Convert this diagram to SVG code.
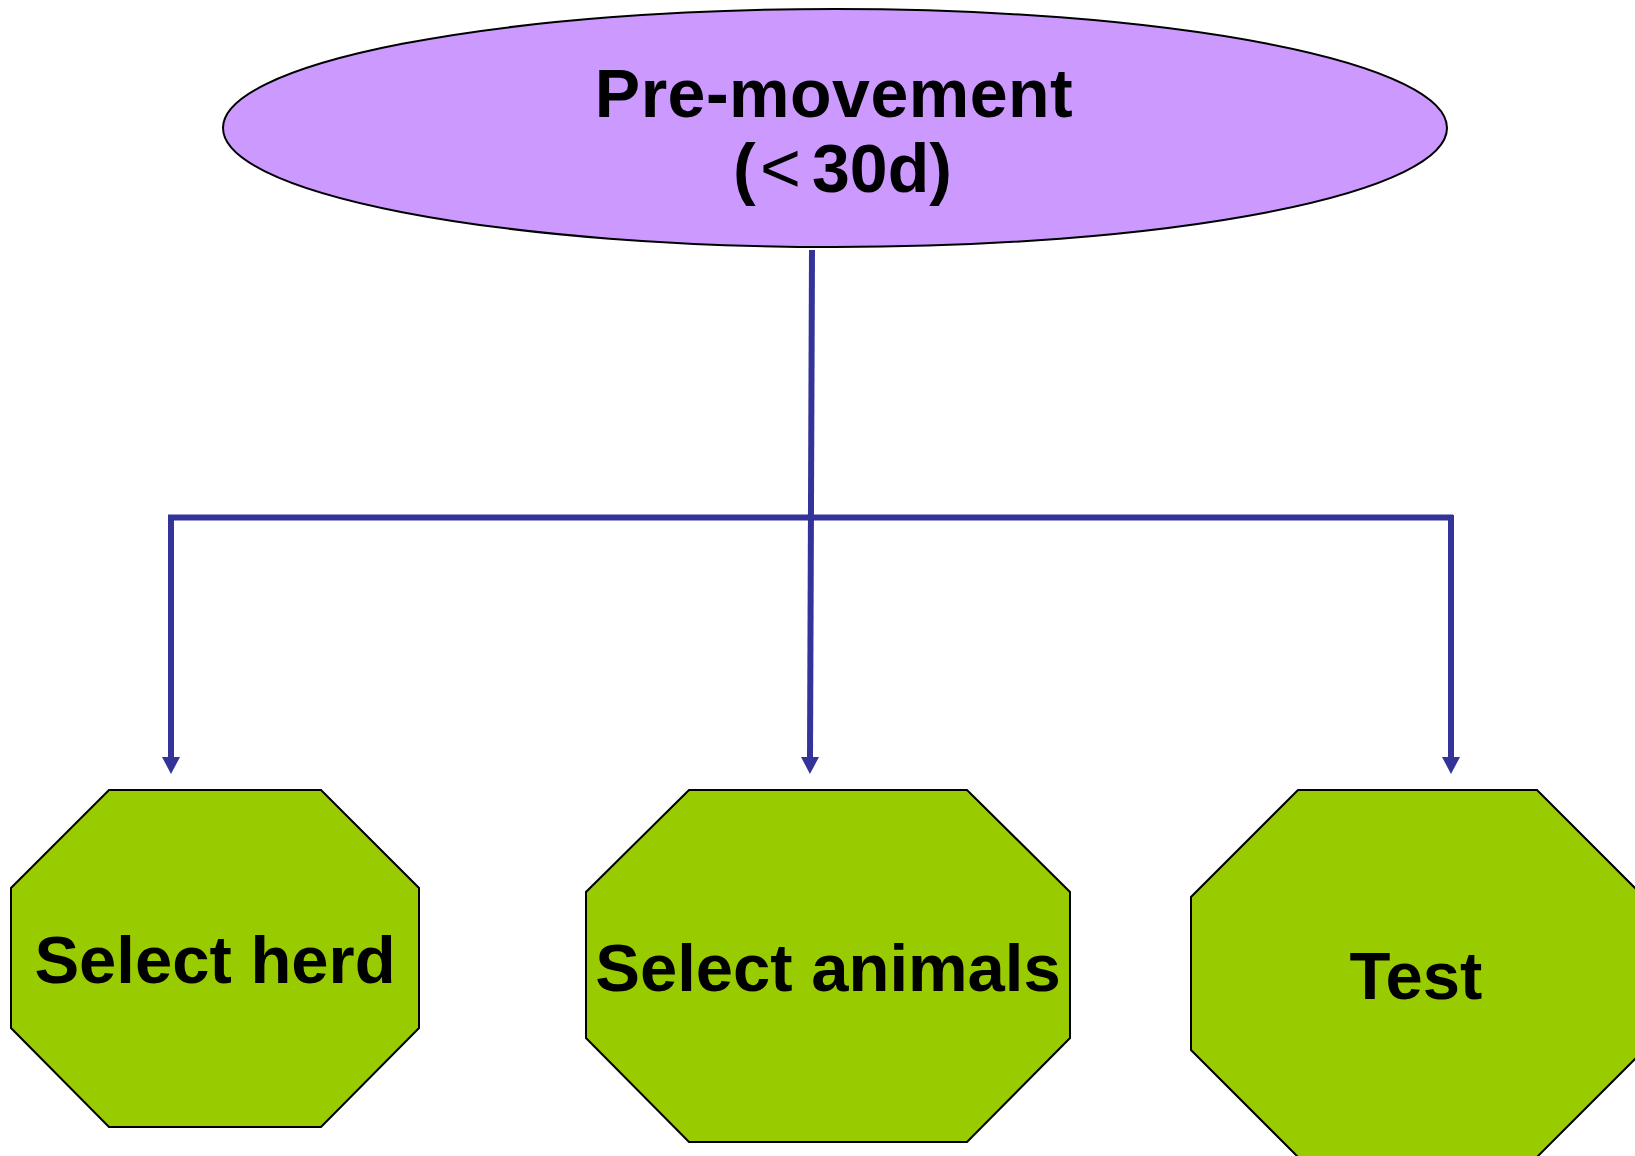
<svg xmlns="http://www.w3.org/2000/svg" width="1635" height="1156" viewBox="0 0 1635 1156">
<defs>
<style>
.lbl{font-family:"Liberation Sans",Arial,sans-serif;font-weight:bold;font-size:67px;fill:#000;text-anchor:middle}
.oct{fill:#99CC00;stroke:#000;stroke-width:2}
.conn{stroke:#333399;stroke-width:6;fill:none}
</style>
<marker id="arr" markerUnits="userSpaceOnUse" viewBox="0 -10 20 20" refX="0" refY="0" markerWidth="20" markerHeight="20" orient="auto">
<path d="M0,-9 L17,0 L0,9 z" fill="#333399"/>
</marker>
</defs>
<rect width="1635" height="1156" fill="#fff"/>
<g id="connectors">
<line class="conn" x1="812" y1="250" x2="810" y2="757" marker-end="url(#arr)"/>
<line class="conn" x1="168" y1="517.5" x2="1453" y2="517.5"/>
<line class="conn" x1="171" y1="515" x2="171" y2="757" marker-end="url(#arr)"/>
<line class="conn" x1="1451" y1="515" x2="1451" y2="757" marker-end="url(#arr)"/>
</g>
<g id="node-premovement">
<ellipse cx="835" cy="128" rx="612" ry="119" fill="#CC99FF" stroke="#000" stroke-width="2"/>
<text class="lbl" x="834" y="117" font-size="68" style="font-size:68px;letter-spacing:0.5px">Pre-movement</text>
<text class="lbl" y="192" style="font-size:68px;text-anchor:start"><tspan x="733">(</tspan><tspan x="760" style="font-weight:normal;font-size:70px">&lt;</tspan><tspan x="812">30d)</tspan></text>
</g>
<g id="node-select-herd">
<polygon class="oct" points="109,790 321,790 419,888 419,1028 321,1127 109,1127 11,1028 11,888"/>
<text class="lbl" x="215" y="983">Select herd</text>
</g>
<g id="node-select-animals">
<polygon class="oct" points="689,790 967,790 1070,892 1070,1038 967,1142 689,1142 586,1038 586,892"/>
<text class="lbl" x="828" y="991">Select animals</text>
</g>
<g id="node-test">
<polygon class="oct" points="1298,790 1537,790 1644,897 1644,1050 1537,1157 1298,1157 1191,1050 1191,897"/>
<text class="lbl" x="1416" y="999">Test</text>
</g>
</svg>
